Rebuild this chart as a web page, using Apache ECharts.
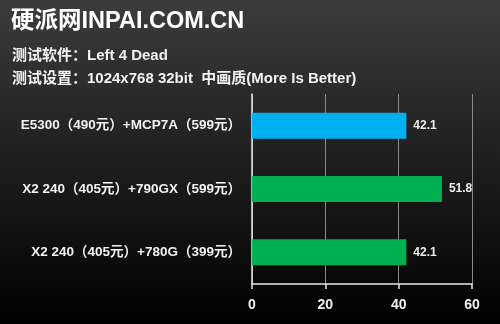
<!DOCTYPE html>
<html>
<head>
<meta charset="utf-8">
<script src="https://cdn.jsdelivr.net/npm/echarts@6/dist/echarts.min.js"></script>
<style>
html,body{margin:0;padding:0;}
#c{width:500px;height:324px;}
</style>
</head>
<body>
<div id="c"></div>
<script>
var titleText = '硬派网INPAI.COM.CN';
var subtitle1 = '测试软件：Left 4 Dead';
var subtitle2 = '测试设置：1024x768 32bit  中画质(More Is Better)';
// bottom-to-top order
var categories = ['X2 240（405元）+780G（399元）', 'X2 240（405元）+790GX（599元）', 'E5300（490元）+MCP7A（599元）'];
var values = [42.1, 51.8, 42.1];
var barColors = ['#00b050', '#00b050', '#00b0f0'];
var xTicks = [0, 20, 40, 60];

var FONT = '"Liberation Sans", "Noto Sans CJK SC", sans-serif';
var chart = echarts.init(document.getElementById('c'));
chart.setOption({
  animation: false,
  backgroundColor: {
    type: 'linear', x: 0, y: 0, x2: 0, y2: 1,
    colorStops: [{offset: 0, color: '#3c3c3c'}, {offset: 1, color: '#000000'}]
  },
  title: [
    {text: titleText, left: 6, top: 5, textStyle: {color: '#ffffff', fontSize: 23.5, fontWeight: 'bold', fontFamily: FONT}},
    {text: subtitle1, left: 7, top: 43, textStyle: {color: '#f2f2f2', fontSize: 15, fontWeight: 'bold', fontFamily: FONT}},
    {text: subtitle2, left: 7, top: 66, textStyle: {color: '#f2f2f2', fontSize: 15, fontWeight: 'bold', fontFamily: FONT}}
  ],
  grid: {left: 252, right: 28, top: 94, bottom: 40, containLabel: false},
  xAxis: {
    type: 'value', min: xTicks[0], max: xTicks[xTicks.length - 1], interval: 20,
    axisLine: {show: true, lineStyle: {color: '#e8e8e8', width: 1.5}},
    axisTick: {show: true, length: 5, lineStyle: {color: '#e8e8e8', width: 1.5}},
    splitLine: {show: true, lineStyle: {color: '#8a8a8a', width: 1}},
    axisLabel: {color: '#f2f2f2', fontSize: 14, fontWeight: 'bold', fontFamily: FONT, margin: 14}
  },
  yAxis: {
    type: 'category', data: categories,
    axisLine: {show: true, lineStyle: {color: '#e8e8e8', width: 1.5}},
    axisTick: {show: false},
    axisLabel: {color: '#f2f2f2', fontSize: 13.5, fontWeight: 'bold', fontFamily: FONT, margin: 11}
  },
  series: [{
    type: 'bar',
    data: values.map(function (v, i) { return {value: v, itemStyle: {color: barColors[i]}}; }),
    barWidth: 26,
    label: {show: true, position: 'right', distance: 7, color: '#ececec', fontSize: 12, fontWeight: 'bold', fontFamily: FONT}
  }]
});
</script>
</body>
</html>
